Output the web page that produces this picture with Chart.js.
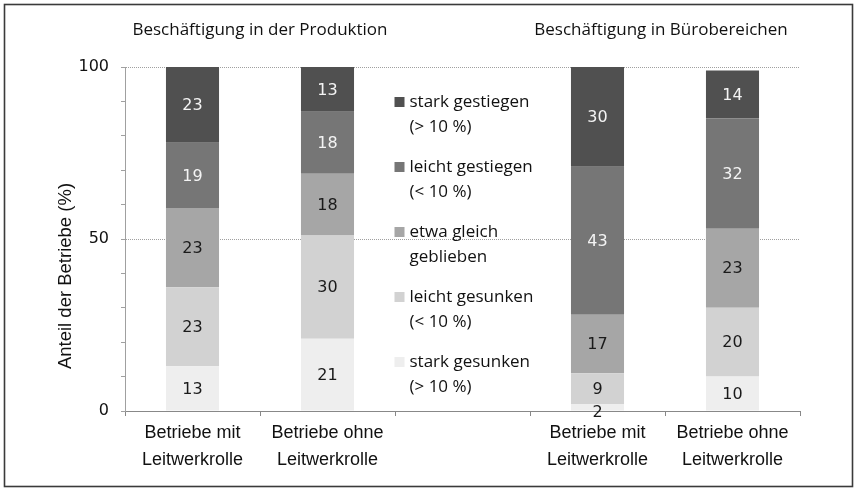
<!DOCTYPE html>
<html>
<head>
<meta charset="utf-8">
<script src="https://cdn.jsdelivr.net/npm/chart.js@4.4.1/dist/chart.umd.min.js"></script>
<style>
  html, body { margin: 0; padding: 0; background: #fff; }
  #wrap { width: 856px; height: 491px; position: relative; }
</style>
</head>
<body>
<div id="wrap"><canvas id="c" width="856" height="491"></canvas></div>
<script>
// ---- data ----
const categories = [
  ["Betriebe mit", "Leitwerkrolle"],
  ["Betriebe ohne", "Leitwerkrolle"],
  "",
  ["Betriebe mit", "Leitwerkrolle"],
  ["Betriebe ohne", "Leitwerkrolle"]
];
const groupTitles = ["Beschäftigung in der Produktion", "Beschäftigung in Bürobereichen"];
const seriesNames = ["stark gesunken", "leicht gesunken", "etwa gleich geblieben", "leicht gestiegen", "stark gestiegen"];
const legendLines = [
  ["stark gesunken", "(> 10 %)"],
  ["leicht gesunken", "(< 10 %)"],
  ["etwa gleich", "geblieben"],
  ["leicht gestiegen", "(< 10 %)"],
  ["stark gestiegen", "(> 10 %)"]
];
const starkGesunken   = [13, 21, null, 2, 10];
const leichtGesunken  = [23, 30, null, 9, 20];
const etwaGleich      = [23, 18, null, 17, 23];
const leichtGestiegen = [19, 18, null, 43, 32];
const starkGestiegen  = [23, 13, null, 30, 14];
const yTickLabels = [0, 50, 100];
const yAxisTitle = "Anteil der Betriebe (%)";

const seriesValues = [starkGesunken, leichtGesunken, etwaGleich, leichtGestiegen, starkGestiegen];
const colors = ["#eeeeee", "#d2d2d2", "#a6a6a6", "#767676", "#505050"];
const labelColors = ["#1a1a1a", "#1a1a1a", "#1a1a1a", "#f4f4f4", "#f4f4f4"];

const valueFont = "16px 'DejaVu Sans'";
const textFont = "17px 'Open Sans'";

const decor = {
  id: 'decor',
  afterDatasetsDraw(chart) {
    const ctx = chart.ctx;
    ctx.save();
    ctx.font = valueFont;
    ctx.textAlign = 'center';
    ctx.textBaseline = 'middle';
    chart.data.datasets.forEach((ds, di) => {
      const meta = chart.getDatasetMeta(di);
      meta.data.forEach((el, i) => {
        const v = ds.data[i];
        if (v == null) return;
        let y = (Math.max(el.y, chart.chartArea.top) + el.base) / 2;
        if (v < 5) y = el.base + 1;
        ctx.fillStyle = v < 5 ? '#1a1a1a' : labelColors[di];
        ctx.fillText(String(v), el.x, y + 1);
      });
    });
    ctx.restore();
  },
  afterDraw(chart) {
    const ctx = chart.ctx;
    const xs = chart.scales.x;
    ctx.save();
    // group titles
    ctx.font = textFont;
    ctx.fillStyle = '#111';
    ctx.textAlign = 'center';
    ctx.textBaseline = 'middle';
    const c1 = (xs.getPixelForValue(0) + xs.getPixelForValue(1)) / 2;
    const c2 = (xs.getPixelForValue(3) + xs.getPixelForValue(4)) / 2 - 4;
    ctx.fillText(groupTitles[0], c1, 30);
    ctx.fillText(groupTitles[1], c2, 30);
    // y-axis title
    ctx.save();
    ctx.translate(66, 276);
    ctx.rotate(-Math.PI / 2);
    ctx.font = "18.5px 'Liberation Sans'";
    ctx.fillStyle = '#111';
    ctx.fillText(yAxisTitle, 0, 0);
    ctx.restore();
    // legend (in the empty middle category)
    ctx.textAlign = 'left';
    ctx.font = textFont;
    const lx = xs.getPixelForValue(2) - 68;
    const order = [4, 3, 2, 1, 0];
    order.forEach((si, k) => {
      const y0 = 102 + k * 65;
      ctx.fillStyle = colors[si];
      ctx.fillRect(lx, y0 - 5, 10, 10);
      ctx.fillStyle = '#111';
      ctx.fillText(legendLines[si][0], lx + 15, y0);
      ctx.fillText(legendLines[si][1], lx + 15, y0 + 25);
    });
    // outer frame
    ctx.strokeStyle = '#3a3a3a';
    ctx.lineWidth = 1.6;
    ctx.strokeRect(4.5, 4.5, 848, 482);
    ctx.restore();
  }
};

new Chart(document.getElementById('c'), {
  type: 'bar',
  data: {
    labels: categories,
    datasets: seriesValues.map((vals, i) => ({
      label: seriesNames[i],
      data: vals,
      backgroundColor: colors[i],
      borderWidth: 0,
      categoryPercentage: 1,
      barPercentage: 0.393
    }))
  },
  options: {
    responsive: false,
    animation: false,
    devicePixelRatio: 1,
    layout: { padding: { left: 0, top: 67, right: 56, bottom: 0 } },
    plugins: { legend: { display: false }, tooltip: { enabled: false } },
    scales: {
      x: {
        stacked: true,
        grid: { offset: true, drawOnChartArea: false, color: '#888', tickLength: 5 },
        border: { color: '#888', dash: [1, 1] },
        ticks: { color: '#111', font: { family: 'Liberation Sans', size: 18, lineHeight: 1.5 }, padding: 4, maxRotation: 0, autoSkip: false },
        afterFit(s) { s.height = 80; }
      },
      y: {
        stacked: true,
        min: 0, max: 100,
        afterBuildTicks(s) { s.ticks = []; for (let v = 0; v <= 100; v += 10) s.ticks.push({ value: v }); },
        ticks: {
          color: '#111',
          font: { family: 'DejaVu Sans', size: 16 },
          padding: 12,
          callback: v => (yTickLabels.includes(v) ? String(v) : '')
        },
        grid: {
          color: c => (c.tick && yTickLabels.includes(c.tick.value) ? '#a0a0a0' : 'rgba(0,0,0,0)'),
          tickColor: '#a0a0a0',
          tickLength: 4,
          lineWidth: 1
        },
        border: { color: '#a0a0a0', dash: [1, 1] },
        afterFit(s) { s.width = 125; }
      }
    }
  },
  plugins: [decor]
});
</script>
</body>
</html>
